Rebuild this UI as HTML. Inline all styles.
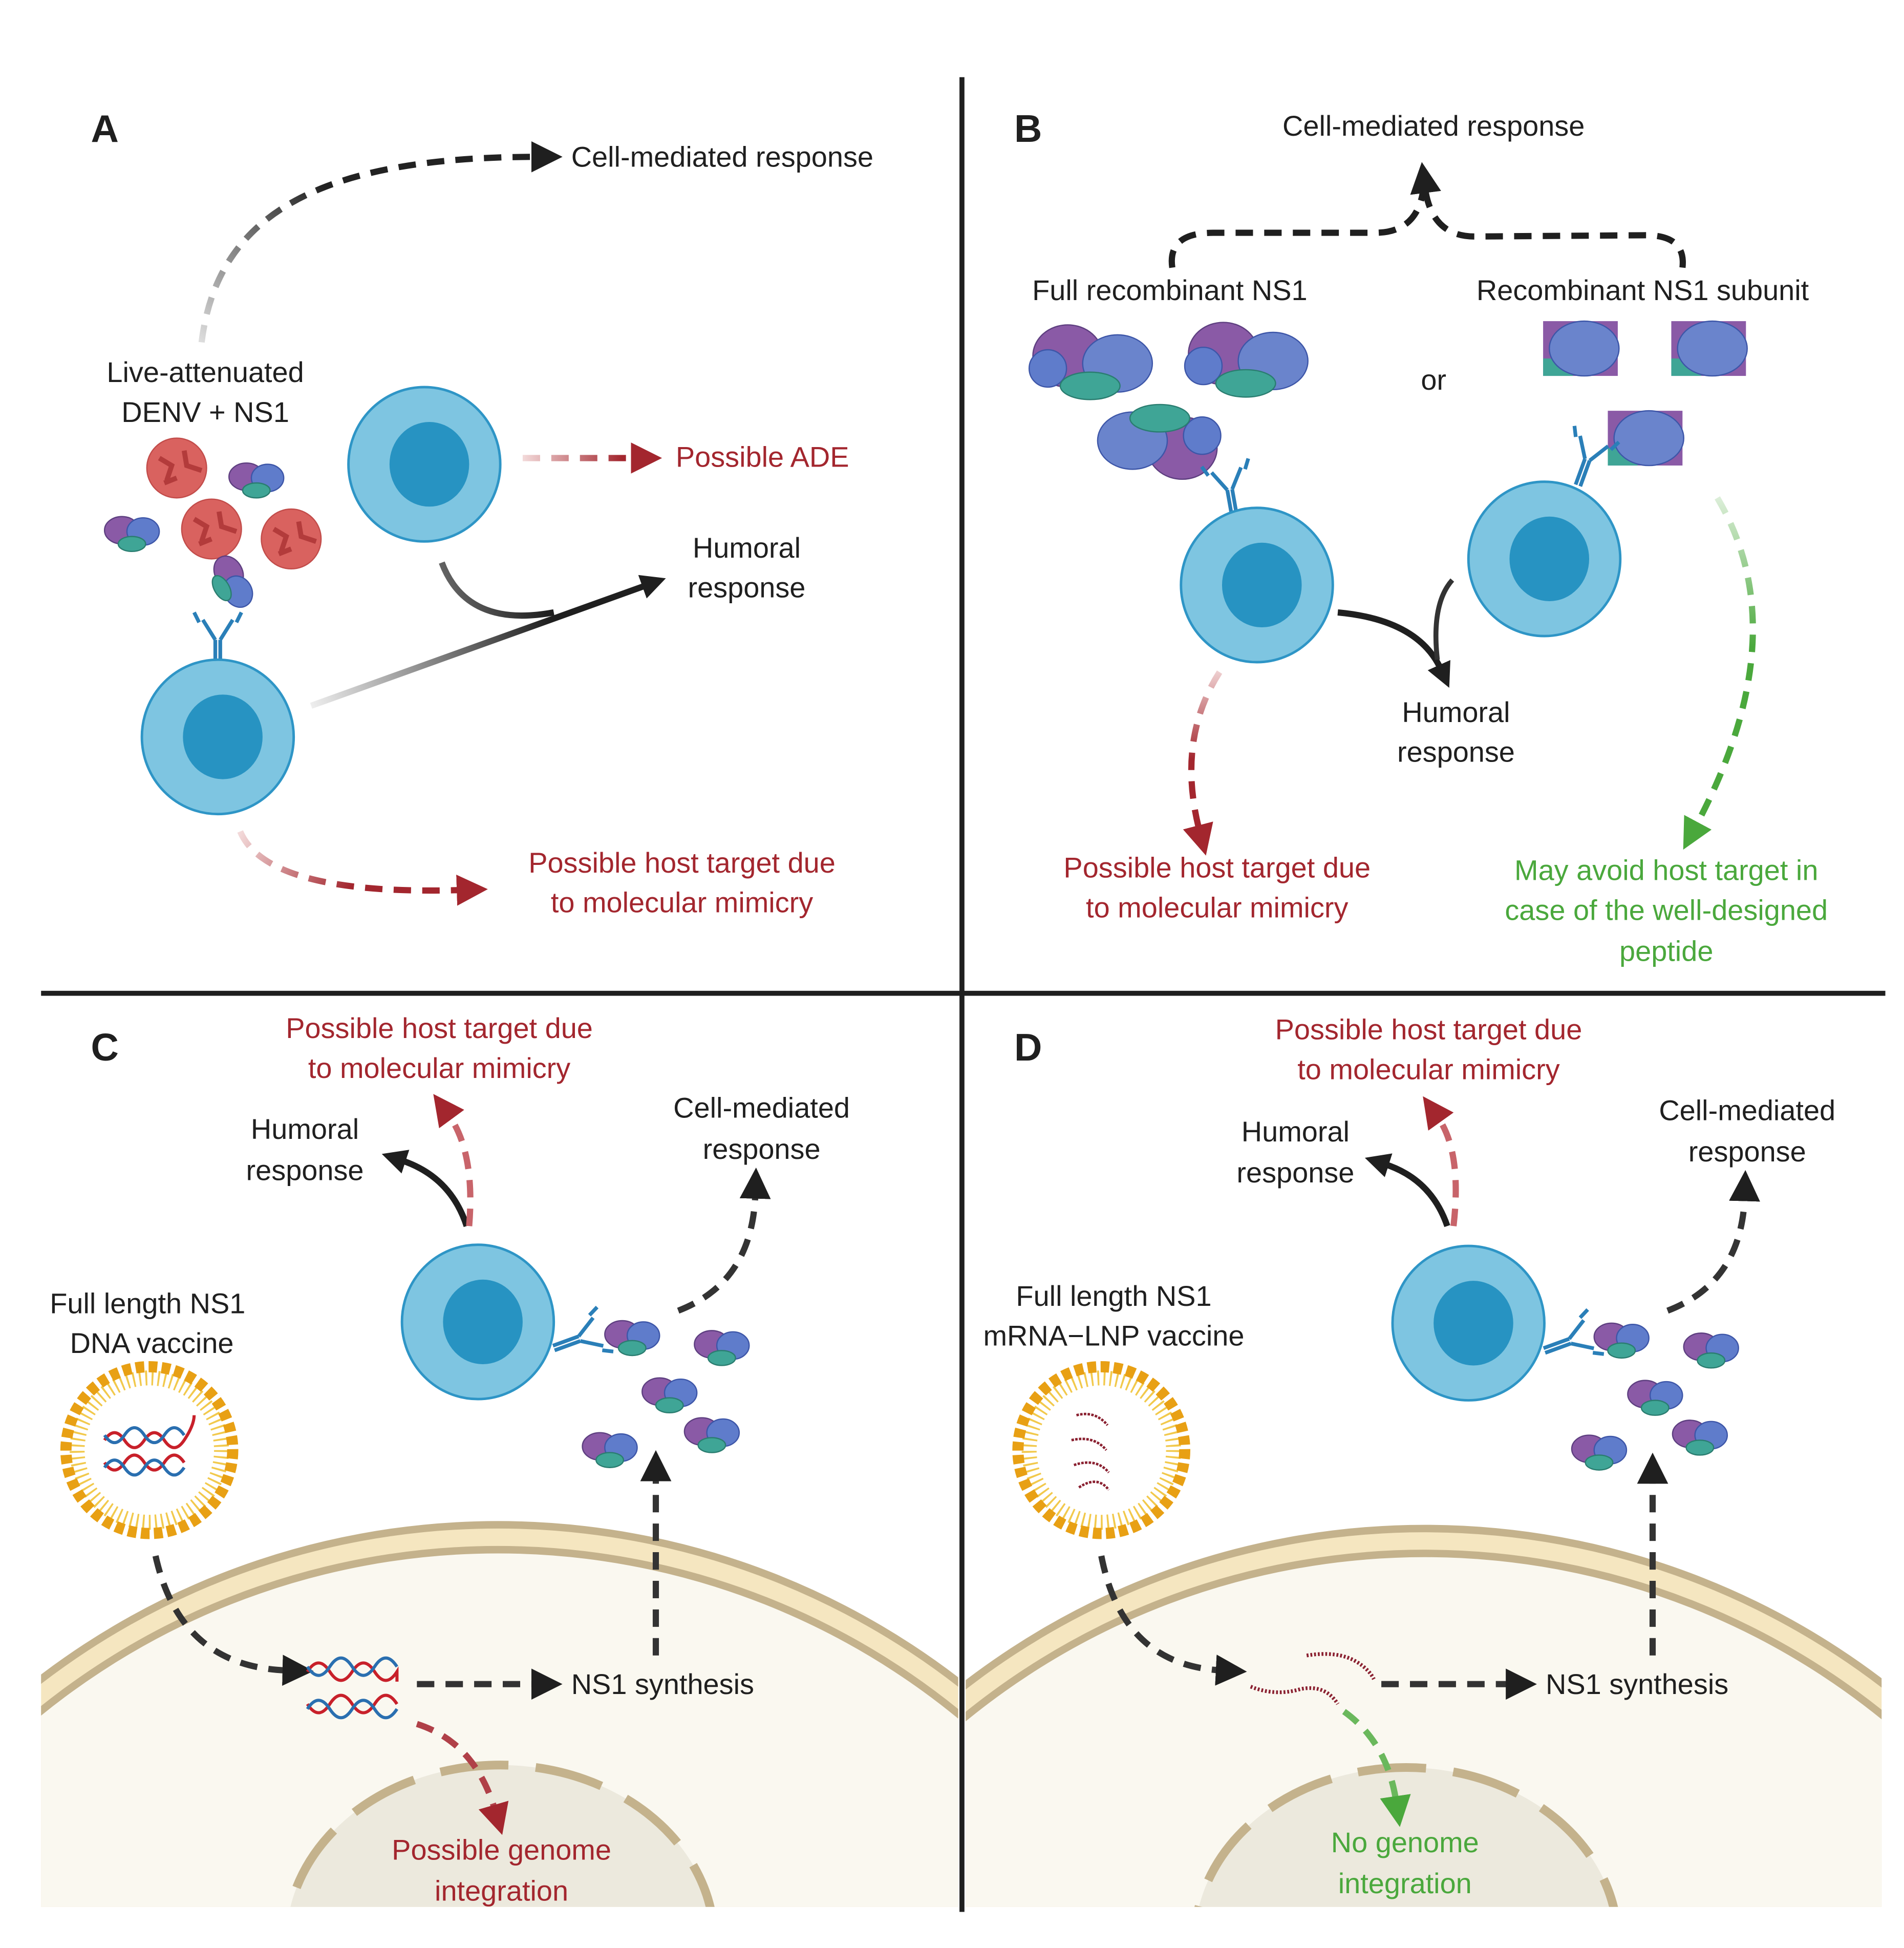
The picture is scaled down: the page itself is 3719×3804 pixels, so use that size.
<!DOCTYPE html>
<html><head><meta charset="utf-8"><style>
html,body{margin:0;padding:0;background:#fff;width:3719px;height:3804px;overflow:hidden;}
svg{display:block;}
text{font-family:"Liberation Sans",Arial,sans-serif;font-size:23px;}
.k{fill:#1f1f1f}.r{fill:#a3262e}.g{fill:#4aa83c}
</style></head><body>
<svg width="3719" height="3804" viewBox="0 0 1530 1565" preserveAspectRatio="none" xmlns="http://www.w3.org/2000/svg">
<defs>
<marker id="mk" viewBox="0 0 10 10" refX="2" refY="5" markerWidth="5" markerHeight="5" orient="auto"><path d="M0,0L10,5L0,10z" fill="#1f1f1f"/></marker>
<marker id="mr" viewBox="0 0 10 10" refX="2" refY="5" markerWidth="5" markerHeight="5" orient="auto"><path d="M0,0L10,5L0,10z" fill="#a3262e"/></marker>
<marker id="mg" viewBox="0 0 10 10" refX="2" refY="5" markerWidth="5" markerHeight="5" orient="auto"><path d="M0,0L10,5L0,10z" fill="#4aa83c"/></marker>
<marker id="mk2" viewBox="0 0 10 10" refX="2" refY="5" markerWidth="4" markerHeight="4" orient="auto"><path d="M0,0L10,5L0,10z" fill="#1f1f1f"/></marker>
<g id="cell"><ellipse cx="0" cy="0" rx="61" ry="62" fill="#7ec5e1" stroke="#2e95c6" stroke-width="2"/><ellipse cx="4" cy="0" rx="32" ry="34" fill="#2793c2"/></g>
<g id="prot"><ellipse cx="-8" cy="-2" rx="14" ry="11" fill="#8a5aa6" stroke="#5e3f80"/><ellipse cx="9" cy="-1" rx="13" ry="11" fill="#5f7ccb" stroke="#3d56a8"/><ellipse cx="0" cy="9" rx="11" ry="6" fill="#3fa596" stroke="#2a7d70"/></g>
<g id="bigprot"><ellipse cx="-22" cy="-4" rx="28" ry="25" fill="#8a5aa6" stroke="#5e3f80"/><ellipse cx="-38" cy="6" rx="15" ry="15" fill="#5f7ccb" stroke="#3d56a8"/><ellipse cx="18" cy="2" rx="28" ry="23" fill="#6a84cc" stroke="#3d56a8"/><ellipse cx="-4" cy="20" rx="24" ry="11" fill="#3fa596" stroke="#2a7d70"/></g>
<g id="subprot"><rect x="-30" y="-22" width="60" height="44" fill="#8a5aa6"/><rect x="-30" y="8" width="24" height="14" fill="#3fa596"/><ellipse cx="3" cy="0" rx="28" ry="22" fill="#6a84cc" stroke="#3d56a8"/></g>
<g id="ab" stroke="#2a7fb8" stroke-width="3" fill="none"><path d="M-2,0V-22M2,0V-22M-2,-22L-12,-38M2,-22L12,-38M-15,-36l-4,-8M15,-36l4,-8"/></g>
<g id="virus"><circle r="24" fill="#d9625f" stroke="#c24c4a"/><path d="M-14,-8l10,6l-4,12M6,-14l2,12l12,4M-10,12l10,-4" stroke="#b33b3b" stroke-width="4" fill="none"/></g>
<linearGradient id="gA" gradientUnits="userSpaceOnUse" x1="162" y1="275" x2="260" y2="150"><stop offset="0" stop-color="#ddd"/><stop offset="1" stop-color="#222"/></linearGradient>
<linearGradient id="gR" gradientUnits="userSpaceOnUse" x1="420" y1="0" x2="500" y2="0"><stop offset="0" stop-color="#f3dada"/><stop offset="1" stop-color="#a3262e"/></linearGradient>
<linearGradient id="gH" gradientUnits="userSpaceOnUse" x1="250" y1="567" x2="440" y2="495"><stop offset="0" stop-color="#eee"/><stop offset="1" stop-color="#1f1f1f"/></linearGradient>
<linearGradient id="gR2" gradientUnits="userSpaceOnUse" x1="193" y1="668" x2="280" y2="715"><stop offset="0" stop-color="#f3dada"/><stop offset="1" stop-color="#a3262e"/></linearGradient>
<linearGradient id="gRB" gradientUnits="userSpaceOnUse" x1="0" y1="535" x2="0" y2="610"><stop offset="0" stop-color="#f3dada"/><stop offset="1" stop-color="#a3262e"/></linearGradient>
<linearGradient id="gGB" gradientUnits="userSpaceOnUse" x1="0" y1="395" x2="0" y2="520"><stop offset="0" stop-color="#e2f1df"/><stop offset="1" stop-color="#4aa83c"/></linearGradient>
</defs>

<rect x="771" y="62" width="4" height="1474" fill="#1f1f1f"/>
<rect x="33" y="796" width="1482" height="4" fill="#1f1f1f"/>

<clipPath id="cC"><rect x="33" y="800" width="737" height="732"/></clipPath>
<clipPath id="cD"><rect x="776" y="800" width="736" height="732"/></clipPath>
<g clip-path="url(#cC)">
<circle cx="400" cy="1830" r="605" fill="#f5e6c0"/><circle cx="400" cy="1830" r="605" fill="none" stroke="#c4b28c" stroke-width="6"/>
<circle cx="400" cy="1830" r="585" fill="#faf8f0" stroke="#c4b28c" stroke-width="6"/>
<ellipse cx="402" cy="1560" rx="172" ry="142" fill="#ece9dd" stroke="#c4b28c" stroke-width="7" stroke-dasharray="55 22"/>
</g>
<g clip-path="url(#cD)">
<circle cx="1145" cy="1833" r="605" fill="#f5e6c0"/><circle cx="1145" cy="1833" r="605" fill="none" stroke="#c4b28c" stroke-width="6"/>
<circle cx="1145" cy="1833" r="585" fill="#faf8f0" stroke="#c4b28c" stroke-width="6"/>
<ellipse cx="1130" cy="1560" rx="170" ry="140" fill="#ece9dd" stroke="#c4b28c" stroke-width="7" stroke-dasharray="55 22"/>
</g>

<!-- Panel A -->
<text x="73" y="114" style="font-size:31px;font-weight:bold" class="k">A</text>
<path d="M162,275 C175,170 260,126 432,126" fill="none" stroke="url(#gA)" stroke-width="5" stroke-dasharray="14 9" marker-end="url(#mk)"/>
<text x="459" y="134" class="k">Cell-mediated response</text>
<text x="165" y="307" text-anchor="middle" class="k">Live-attenuated</text>
<text x="165" y="339" text-anchor="middle" class="k">DENV + NS1</text>
<use href="#virus" x="142" y="376"/><use href="#virus" x="170" y="425"/><use href="#virus" x="234" y="433"/>
<use href="#prot" x="206" y="385"/><use href="#prot" x="106" y="428"/><use href="#prot" transform="translate(186,468) rotate(60)"/>
<use href="#ab" transform="translate(175,536)"/>
<use href="#ab" transform="translate(285,398) rotate(60)"/>
<use href="#cell" x="341" y="373"/>
<use href="#cell" x="175" y="592"/>
<path d="M420,368 L512,368" fill="none" stroke="url(#gR)" stroke-width="5" stroke-dasharray="14 9" marker-end="url(#mr)"/>
<text x="543" y="375" class="r">Possible ADE</text>
<path d="M250,567 L520,470" fill="none" stroke="url(#gH)" stroke-width="5" marker-end="url(#mk2)"/>
<path d="M355,452 Q375,505 445,492" fill="none" stroke="url(#gH)" stroke-width="5"/>
<text x="600" y="448" text-anchor="middle" class="k">Humoral</text>
<text x="600" y="480" text-anchor="middle" class="k">response</text>
<path d="M193,668 Q215,720 372,715" fill="none" stroke="url(#gR2)" stroke-width="5" stroke-dasharray="14 9" marker-end="url(#mr)"/>
<text x="548" y="701" text-anchor="middle" class="r">Possible host target due</text>
<text x="548" y="733" text-anchor="middle" class="r">to molecular mimicry</text>

<!-- Panel B -->
<text x="815" y="114" style="font-size:31px;font-weight:bold" class="k">B</text>
<text x="1152" y="109" text-anchor="middle" class="k">Cell-mediated response</text>
<path d="M942,215 Q938,187 975,187 L1105,187 Q1140,187 1144,150" fill="none" stroke="#1f1f1f" stroke-width="5" stroke-dasharray="14 9"/>
<path d="M1352,215 Q1355,188 1320,189 L1185,190 Q1150,190 1145,150" fill="none" stroke="#1f1f1f" stroke-width="5" stroke-dasharray="14 9" marker-end="url(#mk)"/>
<text x="940" y="241" text-anchor="middle" class="k">Full recombinant NS1</text>
<text x="1320" y="241" text-anchor="middle" class="k">Recombinant NS1 subunit</text>
<text x="1152" y="313" text-anchor="middle" class="k">or</text>
<use href="#bigprot" x="880" y="290"/><use href="#bigprot" x="1005" y="288"/>
<use href="#bigprot" transform="translate(928,356) rotate(180)"/>
<use href="#subprot" x="1270" y="280"/><use href="#subprot" x="1373" y="280"/><use href="#subprot" x="1322" y="352"/>
<use href="#ab" transform="translate(992,415) rotate(-10)"/>
<use href="#ab" transform="translate(1268,390) rotate(20)"/>
<use href="#cell" x="1010" y="470"/>
<use href="#cell" x="1241" y="449"/>
<path d="M1075,492 Q1140,498 1158,538" fill="none" stroke="url(#gH)" stroke-width="5" marker-end="url(#mk2)"/>
<path d="M1167,466 Q1150,485 1155,530" fill="none" stroke="#333" stroke-width="4"/>
<text x="1170" y="580" text-anchor="middle" class="k">Humoral</text>
<text x="1170" y="612" text-anchor="middle" class="k">response</text>
<path d="M980,540 Q945,595 964,668" fill="none" stroke="url(#gRB)" stroke-width="5" stroke-dasharray="14 9" marker-end="url(#mr)"/>
<path d="M1380,400 Q1445,510 1362,665" fill="none" stroke="url(#gGB)" stroke-width="5" stroke-dasharray="14 9" marker-end="url(#mg)"/>
<text x="978" y="705" text-anchor="middle" class="r">Possible host target due</text>
<text x="978" y="737" text-anchor="middle" class="r">to molecular mimicry</text>
<text x="1339" y="707" text-anchor="middle" class="g">May avoid host target in</text>
<text x="1339" y="739" text-anchor="middle" class="g">case of the well-designed</text>
<text x="1339" y="772" text-anchor="middle" class="g">peptide</text>

<!-- Panel C -->
<text x="73" y="852" style="font-size:31px;font-weight:bold" class="k">C</text>
<text x="353" y="834" text-anchor="middle" class="r">Possible host target due</text>
<text x="353" y="866" text-anchor="middle" class="r">to molecular mimicry</text>
<text x="245" y="915" text-anchor="middle" class="k">Humoral</text>
<text x="245" y="948" text-anchor="middle" class="k">response</text>
<text x="612" y="898" text-anchor="middle" class="k">Cell-mediated</text>
<text x="612" y="931" text-anchor="middle" class="k">response</text>
<path d="M375,985 Q362,945 322,932" fill="none" stroke="#1f1f1f" stroke-width="5" marker-end="url(#mk2)"/>
<path d="M377,985 Q382,925 360,895" fill="none" stroke="#c8646a" stroke-width="5" stroke-dasharray="14 9" marker-end="url(#mr)"/>
<use href="#cell" x="384" y="1062"/>
<use href="#ab" transform="translate(445,1083) rotate(70)"/>
<path d="M545,1053 Q605,1030 607,958" fill="none" stroke="#333" stroke-width="5" stroke-dasharray="14 9" marker-end="url(#mk)"/>
<use href="#prot" x="508" y="1074"/><use href="#prot" x="580" y="1082"/><use href="#prot" x="538" y="1120"/><use href="#prot" x="572" y="1152"/><use href="#prot" x="490" y="1164"/>
<text x="40" y="1055" class="k">Full length NS1</text>
<text x="122" y="1087" text-anchor="middle" class="k">DNA vaccine</text>
<g transform="translate(120,1165)">
<circle r="58" fill="none" stroke="#f2c94c" stroke-width="12" stroke-dasharray="1.5 3.5"/>
<circle r="67" fill="none" stroke="#e8a014" stroke-width="9" stroke-dasharray="7 3.5"/>
<path d="M-36,-8 q8,-12 16,0 q8,12 16,0 q8,-12 16,0 q8,12 16,0 q8,-12 8,-20" stroke="#c8202a" stroke-width="2.5" fill="none"/>
<path d="M-36,-12 q8,12 16,0 q8,-12 16,0 q8,12 16,0 q8,-12 16,0" stroke="#2a6fb0" stroke-width="2.5" fill="none"/>
<path d="M-36,10 q8,12 16,0 q8,-12 16,0 q8,12 16,0 q8,-12 16,0" stroke="#c8202a" stroke-width="2.5" fill="none"/>
<path d="M-36,14 q8,-12 16,0 q8,12 16,0 q8,-12 16,0 q8,12 16,0" stroke="#2a6fb0" stroke-width="2.5" fill="none"/>
</g>
<path d="M125,1250 Q145,1340 232,1342" fill="none" stroke="#333" stroke-width="5" stroke-dasharray="14 9" marker-end="url(#mk)"/>
<g transform="translate(285,1355)">
<path d="M-38,-12 q9,-14 18,0 q9,14 18,0 q9,-14 18,0 q9,14 18,0 v8" stroke="#c8202a" stroke-width="2.5" fill="none"/>
<path d="M-38,-16 q9,14 18,0 q9,-14 18,0 q9,14 18,0 q9,-14 18,0" stroke="#2a6fb0" stroke-width="2.5" fill="none"/>
<path d="M-38,14 q9,14 18,0 q9,-14 18,0 q9,14 18,0 q9,-14 18,0" stroke="#c8202a" stroke-width="2.5" fill="none"/>
<path d="M-38,18 q9,-14 18,0 q9,14 18,0 q9,-14 18,0 q9,14 18,0" stroke="#2a6fb0" stroke-width="2.5" fill="none"/>
</g>
<path d="M335,1353 L432,1353" fill="none" stroke="#333" stroke-width="5" stroke-dasharray="14 9" marker-end="url(#mk)"/>
<text x="459" y="1361" class="k">NS1 synthesis</text>
<path d="M527,1330 L527,1185" fill="none" stroke="#333" stroke-width="5" stroke-dasharray="14 9" marker-end="url(#mk)"/>
<path d="M335,1385 Q382,1400 398,1455" fill="none" stroke="#b04048" stroke-width="5" stroke-dasharray="14 9" marker-end="url(#mr)"/>
<text x="403" y="1494" text-anchor="middle" class="r">Possible genome</text>
<text x="403" y="1527" text-anchor="middle" class="r">integration</text>

<!-- Panel D -->
<text x="815" y="852" style="font-size:31px;font-weight:bold" class="k">D</text>
<text x="1148" y="835" text-anchor="middle" class="r">Possible host target due</text>
<text x="1148" y="867" text-anchor="middle" class="r">to molecular mimicry</text>
<text x="1041" y="917" text-anchor="middle" class="k">Humoral</text>
<text x="1041" y="950" text-anchor="middle" class="k">response</text>
<text x="1404" y="900" text-anchor="middle" class="k">Cell-mediated</text>
<text x="1404" y="933" text-anchor="middle" class="k">response</text>
<path d="M1163,985 Q1150,947 1112,935" fill="none" stroke="#1f1f1f" stroke-width="5" marker-end="url(#mk2)"/>
<path d="M1168,985 Q1175,925 1155,897" fill="none" stroke="#c8646a" stroke-width="5" stroke-dasharray="14 9" marker-end="url(#mr)"/>
<use href="#cell" x="1180" y="1063"/>
<use href="#ab" transform="translate(1241,1085) rotate(70)"/>
<path d="M1340,1053 Q1400,1030 1402,960" fill="none" stroke="#333" stroke-width="5" stroke-dasharray="14 9" marker-end="url(#mk)"/>
<use href="#prot" x="1303" y="1076"/><use href="#prot" x="1375" y="1084"/><use href="#prot" x="1330" y="1122"/><use href="#prot" x="1366" y="1154"/><use href="#prot" x="1285" y="1166"/>
<text x="895" y="1049" text-anchor="middle" class="k">Full length NS1</text>
<text x="895" y="1081" text-anchor="middle" class="k">mRNA−LNP vaccine</text>
<g transform="translate(885,1165)">
<circle r="58" fill="none" stroke="#f2c94c" stroke-width="12" stroke-dasharray="1.5 3.5"/>
<circle r="67" fill="none" stroke="#e8a014" stroke-width="9" stroke-dasharray="7 3.5"/>
<path d="M-20,-28 q15,-4 25,8 M-24,-8 q18,-4 28,8 M-22,12 q18,-6 28,6 M-18,30 q15,-10 24,2" stroke="#8a2030" stroke-width="2" fill="none" stroke-dasharray="2 1"/>
</g>
<path d="M885,1250 Q902,1338 982,1342" fill="none" stroke="#333" stroke-width="5" stroke-dasharray="14 9" marker-end="url(#mk)"/>
<path d="M1050,1330 q25,-4 40,5 q10,6 14,14 M1005,1355 q20,8 40,2 q20,-4 30,12" stroke="#8a2030" stroke-width="3" fill="none" stroke-dasharray="1.5 1.5"/>
<path d="M1110,1353 L1215,1353" fill="none" stroke="#333" stroke-width="5" stroke-dasharray="14 9" marker-end="url(#mk)"/>
<text x="1242" y="1361" class="k">NS1 synthesis</text>
<path d="M1328,1330 L1328,1187" fill="none" stroke="#333" stroke-width="5" stroke-dasharray="14 9" marker-end="url(#mk)"/>
<path d="M1080,1375 Q1115,1400 1122,1448" fill="none" stroke="#6ab85c" stroke-width="5" stroke-dasharray="14 9" marker-end="url(#mg)"/>
<text x="1129" y="1488" text-anchor="middle" class="g">No genome</text>
<text x="1129" y="1521" text-anchor="middle" class="g">integration</text>
</svg>
</body></html>
